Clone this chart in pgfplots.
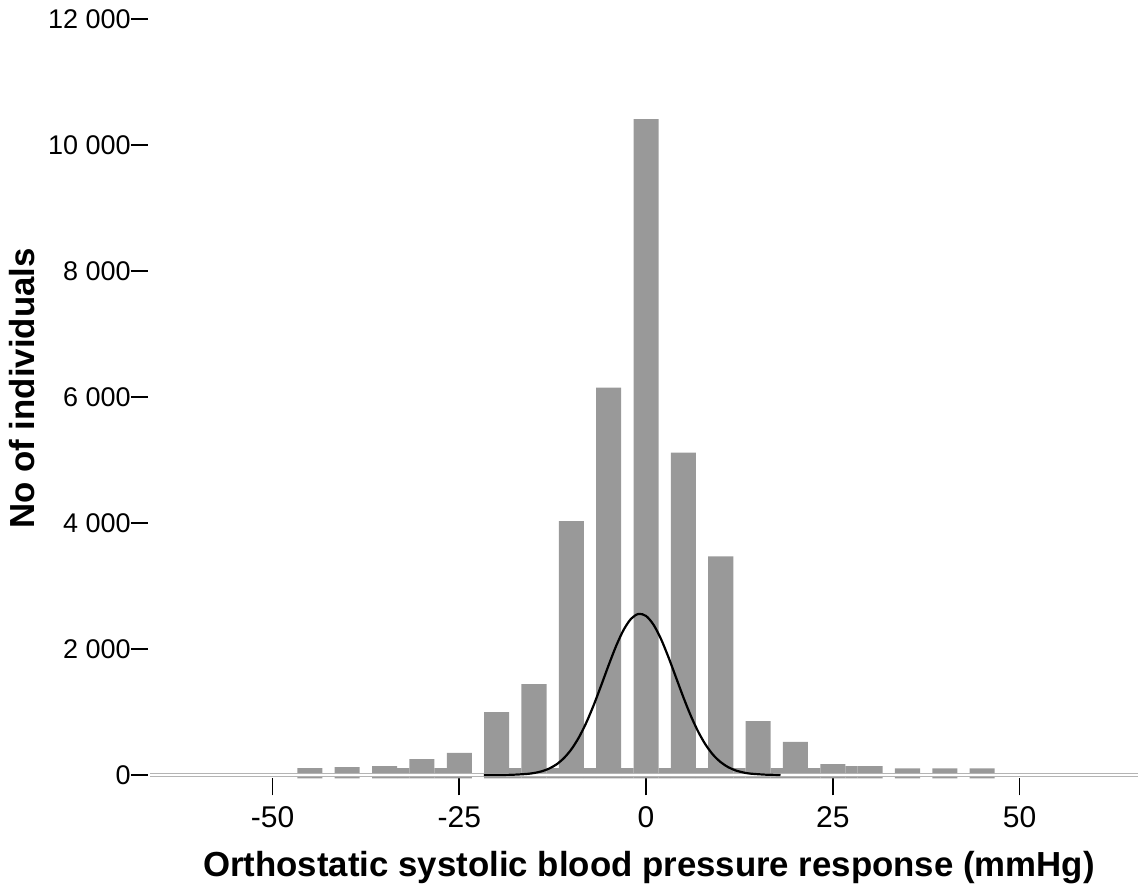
\documentclass[border=0pt]{standalone}
\usepackage{fontspec}
\setmainfont{Liberation Sans}
\usepackage{pgfplots}
\pgfplotsset{compat=1.18}
\definecolor{barg}{HTML}{999999}
\definecolor{baseg}{HTML}{B4B4B4}

% main bins, 5 mmHg apart
\pgfplotstableread{
x y
-45 110
-40 126
-35 142
-30 252
-25 350
-20 1000
-15 1442
-10 4030
-5 6148
0 10413
5 5116
10 3470
15 857
20 527
25 175
30 143
35 106
40 106
45 106
}\mainbins
% low bins in the gaps
\pgfplotstableread{
x y
-32.5 110
-27.5 110
-17.5 110
-12.5 110
-7.5 110
-2.5 110
2.5 110
7.5 110
12.5 110
17.5 110
22.5 110
27.5 143
}\gapbins

\begin{document}
\begin{tikzpicture}
\begin{axis}[
    at={(0,0)}, anchor=south west,
    scale only axis,
    width=495pt, height=379.7pt,
    xmin=-66.67, xmax=65.86,
    ymin=-55, ymax=12000,
    axis x line=bottom, axis y line=left,
    axis line style={draw=none},
    tick align=outside,
    major tick length=8.5pt,
    tick style={black, line width=0.9pt},
    xtick={-50,-25,0,25,50},
    xticklabels={-50,-25,0,25,50},
    ytick={0,2000,4000,6000,8000,10000,12000},
    yticklabels={0,2~000,4~000,6~000,8~000,10~000,12~000},
    yticklabel style={font=\fontsize{13.5}{15}\selectfont, inner xsep=0pt, inner ysep=0pt},
    xticklabel style={font=\fontsize{15}{17}\selectfont, yshift=-2pt},
    clip=false,
]
\addplot[ybar, bar width=3.35, bar shift=0pt, fill=barg, draw=none] table {\mainbins};
\addplot[ybar, bar width=1.65, bar shift=0pt, fill=barg, draw=none] table {\gapbins};
% bars run a little below the zero line
\addplot[ybar, bar width=3.35, bar shift=0pt, fill=barg, draw=none] coordinates {
(-45,-55) (-40,-55) (-35,-55) (-30,-55) (-25,-55) (-20,-55) (-15,-55) (-10,-55) (-5,-55) (0,-55)
(5,-55) (10,-55) (15,-55) (20,-55) (25,-55) (30,-55) (35,-55) (40,-55) (45,-55)};
\addplot[ybar, bar width=1.65, bar shift=0pt, fill=barg, draw=none] coordinates {
(-32.5,-55) (-27.5,-55) (-17.5,-55) (-12.5,-55) (-7.5,-55) (-2.5,-55) (2.5,-55) (7.5,-55) (12.5,-55) (17.5,-55) (22.5,-55) (27.5,-55)};
% x axis: thin double grey line
\addplot[draw=baseg, line width=0.45pt, double=white, double distance=0.75pt] coordinates {(-66.4,0) (65.86,0)};
% normal curve
\addplot[black, line width=1.1pt, smooth] coordinates {
(-21.7,0) (-20,0.5) (-18,4) (-16,17) (-15,32) (-14,58) (-13,101) (-12,168) (-11,268)
(-10,408) (-9,595) (-8,831) (-7,1112) (-6,1424) (-5,1746) (-4,2050) (-3,2305) (-2,2481)
(-1,2558) (0,2525) (1,2386) (2,2160) (3,1871) (4,1553) (5,1234) (6,939) (7,684)
(8,477) (9,318) (10,204) (11,125) (12,73) (13,41) (14,22) (16,6) (18,1)};
\end{axis}
\node[font=\fontsize{17.4}{20}\selectfont\bfseries] at (250.5pt,-44.5pt)
    {Orthostatic systolic blood pressure response (mmHg)};
\node[font=\fontsize{17.4}{20}\selectfont\bfseries, rotate=90] at (-63pt,195pt)
    {No of individuals};
\pgfresetboundingbox
\path[use as bounding box] (-74pt,-56.75pt) rectangle (495pt,389.25pt);
\end{tikzpicture}
\end{document}
